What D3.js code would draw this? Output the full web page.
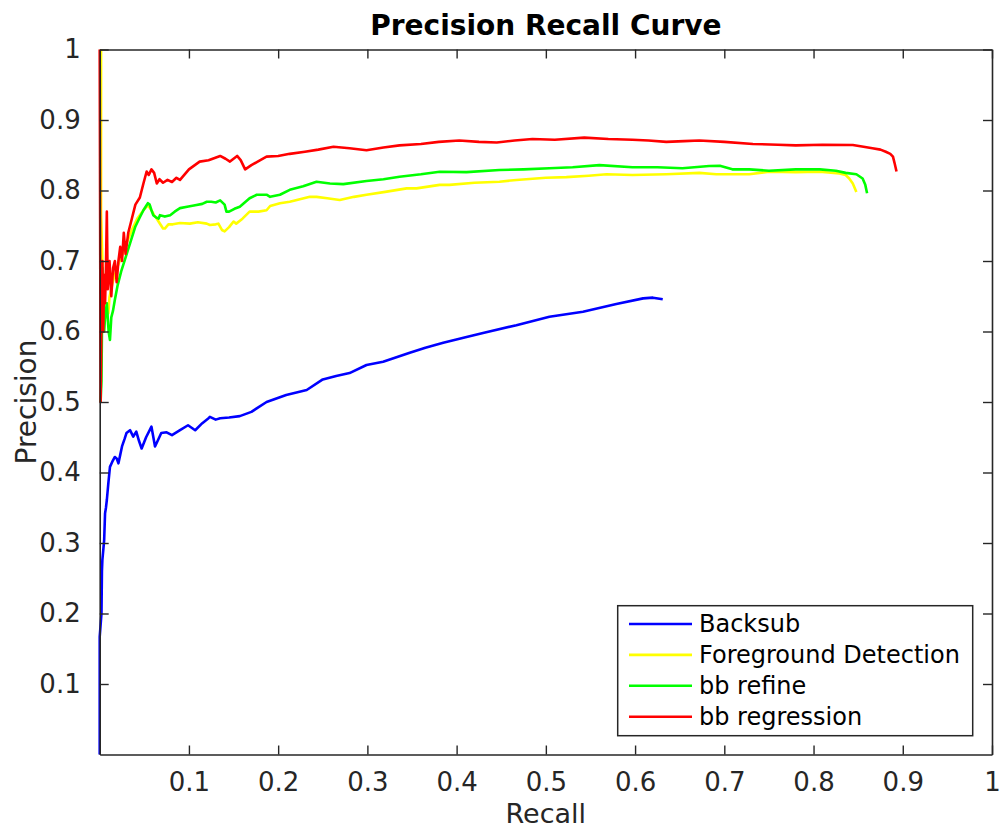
<!DOCTYPE html>
<html>
<head>
<meta charset="utf-8">
<script src="https://cdn.jsdelivr.net/npm/d3@7"></script>
<style>
  html, body { margin: 0; padding: 0; background: #fff; }
  svg { display: block; }
  text { font-family: "DejaVu Sans", sans-serif; }
</style>
</head>
<body>
<svg id="chart" width="1003" height="831"></svg>
<script>
// ---- Data (recall, precision) ----
const seriesNames = ["Backsub", "Foreground Detection", "bb refine", "bb regression"];
const seriesColors = ["#0000ff", "#ffff00", "#00ff00", "#ff0000"];
const xTicks = [0.1, 0.2, 0.3, 0.4, 0.5, 0.6, 0.7, 0.8, 0.9, 1];
const yTicks = [0.1, 0.2, 0.3, 0.4, 0.5, 0.6, 0.7, 0.8, 0.9, 1];

const backsub = [[0,0],[0,0.167],[0.002,0.20],[0.0025,0.26],[0.003,0.276],[0.004,0.29],[0.005,0.304],[0.006,0.342],[0.007,0.35],[0.008,0.361],[0.0097,0.385],[0.0115,0.408],[0.014,0.415],[0.017,0.422],[0.019,0.420],[0.021,0.413],[0.023,0.425],[0.025,0.437],[0.028,0.448],[0.030,0.456],[0.034,0.460],[0.0376,0.451],[0.041,0.458],[0.044,0.445],[0.047,0.434],[0.052,0.450],[0.058,0.465],[0.062,0.437],[0.065,0.445],[0.069,0.456],[0.075,0.457],[0.081,0.453],[0.090,0.460],[0.099,0.467],[0.107,0.460],[0.115,0.470],[0.122,0.477],[0.1235,0.479],[0.130,0.475],[0.135,0.477],[0.145,0.478],[0.157,0.480],[0.170,0.486],[0.187,0.500],[0.209,0.510],[0.232,0.517],[0.250,0.532],[0.265,0.537],[0.280,0.541],[0.299,0.5525],[0.3176,0.557],[0.3475,0.570],[0.365,0.577],[0.385,0.584],[0.41,0.592],[0.4296,0.598],[0.467,0.609],[0.504,0.621],[0.5416,0.628],[0.579,0.639],[0.609,0.647],[0.62,0.648],[0.631,0.6457]];

const foreground = [[0.0015,1.0],[0.0015,0.768],[0.003,0.70],[0.005,0.64],[0.007,0.62],[0.0097,0.626],[0.011,0.649],[0.015,0.672],[0.020,0.692],[0.026,0.711],[0.031,0.728],[0.036,0.744],[0.042,0.760],[0.049,0.772],[0.054,0.779],[0.058,0.772],[0.061,0.765],[0.064,0.760],[0.067,0.754],[0.071,0.746],[0.073,0.746],[0.077,0.752],[0.082,0.752],[0.090,0.754],[0.101,0.753],[0.110,0.755],[0.120,0.753],[0.1235,0.751],[0.130,0.752],[0.133,0.753],[0.137,0.744],[0.140,0.742],[0.145,0.748],[0.150,0.756],[0.153,0.753],[0.160,0.760],[0.168,0.770],[0.178,0.770],[0.187,0.772],[0.191,0.778],[0.202,0.782],[0.213,0.784],[0.2355,0.791],[0.243,0.791],[0.255,0.789],[0.269,0.7865],[0.285,0.791],[0.299,0.794],[0.320,0.798],[0.344,0.803],[0.355,0.803],[0.381,0.808],[0.392,0.808],[0.42,0.811],[0.448,0.8125],[0.467,0.815],[0.50,0.818],[0.523,0.819],[0.548,0.821],[0.568,0.823],[0.597,0.822],[0.635,0.823],[0.672,0.825],[0.691,0.823],[0.728,0.823],[0.75,0.8267],[0.78,0.826],[0.807,0.8267],[0.829,0.824],[0.836,0.822],[0.840,0.817],[0.844,0.810],[0.848,0.798]];

const bbRefine = [[0.001,0.50],[0.002,0.53],[0.0025,0.60],[0.003,0.69],[0.004,0.63],[0.005,0.60],[0.006,0.62],[0.008,0.64],[0.010,0.60],[0.0115,0.588],[0.013,0.62],[0.015,0.63],[0.017,0.645],[0.020,0.665],[0.024,0.685],[0.028,0.701],[0.034,0.725],[0.040,0.749],[0.045,0.762],[0.049,0.772],[0.052,0.778],[0.054,0.782],[0.056,0.780],[0.058,0.772],[0.060,0.765],[0.063,0.762],[0.066,0.760],[0.0675,0.765],[0.073,0.763],[0.079,0.765],[0.084,0.770],[0.090,0.775],[0.098,0.777],[0.107,0.779],[0.115,0.781],[0.120,0.784],[0.125,0.784],[0.130,0.783],[0.135,0.786],[0.140,0.780],[0.142,0.770],[0.145,0.770],[0.151,0.774],[0.157,0.777],[0.168,0.789],[0.176,0.794],[0.187,0.794],[0.191,0.791],[0.202,0.794],[0.213,0.801],[0.228,0.806],[0.243,0.8125],[0.258,0.810],[0.273,0.809],[0.299,0.8135],[0.318,0.816],[0.336,0.8196],[0.36,0.823],[0.381,0.8267],[0.411,0.826],[0.448,0.829],[0.475,0.830],[0.504,0.8315],[0.53,0.833],[0.56,0.836],[0.597,0.833],[0.625,0.833],[0.653,0.8315],[0.683,0.8348],[0.695,0.835],[0.709,0.830],[0.728,0.830],[0.75,0.828],[0.78,0.830],[0.807,0.830],[0.825,0.828],[0.836,0.825],[0.848,0.823],[0.855,0.817],[0.858,0.808],[0.860,0.796]];

const bbRegression = [[0,1.0],[0.0005,0.76],[0.001,0.5],[0.002,0.62],[0.003,0.70],[0.004,0.6],[0.005,0.68],[0.006,0.64],[0.007,0.69],[0.008,0.77],[0.009,0.66],[0.011,0.70],[0.013,0.65],[0.015,0.69],[0.017,0.70],[0.019,0.67],[0.021,0.70],[0.023,0.72],[0.025,0.70],[0.027,0.74],[0.029,0.71],[0.032,0.74],[0.036,0.76],[0.040,0.78],[0.045,0.79],[0.049,0.81],[0.0526,0.827],[0.055,0.822],[0.058,0.830],[0.061,0.825],[0.064,0.81],[0.067,0.816],[0.071,0.811],[0.076,0.815],[0.081,0.812],[0.086,0.818],[0.090,0.815],[0.100,0.830],[0.112,0.841],[0.122,0.843],[0.135,0.849],[0.141,0.845],[0.146,0.841],[0.150,0.845],[0.154,0.849],[0.158,0.843],[0.163,0.830],[0.170,0.836],[0.180,0.843],[0.187,0.848],[0.200,0.849],[0.213,0.852],[0.230,0.855],[0.245,0.858],[0.262,0.862],[0.280,0.860],[0.299,0.857],[0.318,0.861],[0.336,0.864],[0.36,0.866],[0.38,0.869],[0.403,0.871],[0.425,0.869],[0.445,0.868],[0.465,0.871],[0.485,0.873],[0.51,0.872],[0.543,0.875],[0.57,0.873],[0.597,0.872],[0.615,0.871],[0.635,0.869],[0.655,0.870],[0.672,0.871],[0.70,0.869],[0.732,0.866],[0.76,0.865],[0.78,0.864],[0.81,0.865],[0.844,0.8645],[0.856,0.862],[0.866,0.860],[0.875,0.858],[0.881,0.855],[0.886,0.852],[0.889,0.848],[0.891,0.838],[0.893,0.827]];

const allSeries = [backsub, foreground, bbRefine, bbRegression];

// ---- Layout ----
const svg = d3.select("#chart");
const L = 99.7, R = 992, T = 49.5, B = 754.5;
const x = d3.scaleLinear().domain([0, 1]).range([L, R]);
const y = d3.scaleLinear().domain([0, 1]).range([B, T]);
const axisColor = "#262626";
const tickLen = 9;

// Lines
const line = d3.line().x(d => x(d[0])).y(d => y(d[1]));
svg.append("defs").append("clipPath").attr("id", "clip")
  .append("rect").attr("x", L - 2).attr("y", T - 2).attr("width", R - L + 4).attr("height", B - T + 4);
const lg = svg.append("g").attr("clip-path", "url(#clip)");
allSeries.forEach((s, i) => {
  lg.append("path").datum(s)
    .attr("d", line)
    .attr("fill", "none")
    .attr("stroke", seriesColors[i])
    .attr("stroke-width", 2.6)
    .attr("stroke-linejoin", "round");
});

// Axes (MATLAB box style, inward ticks)
function styleAxis(g) {
  g.select(".domain").attr("stroke", axisColor).attr("stroke-width", 1.6);
  g.selectAll(".tick line").attr("stroke", axisColor).attr("stroke-width", 1.4);
  g.selectAll(".tick text").attr("fill", axisColor).style("font-family", "DejaVu Sans").style("font-size", "26px");
}
const fmt = d => (d === 1 ? "1" : d3.format(".1f")(d));

const xAxis = svg.append("g").attr("transform", `translate(0,${B})`)
  .call(d3.axisBottom(x).tickValues(xTicks).tickFormat(fmt).tickSizeInner(-tickLen).tickSizeOuter(0).tickPadding(18));
styleAxis(xAxis);
const xTop = svg.append("g").attr("transform", `translate(0,${T})`)
  .call(d3.axisTop(x).tickValues(xTicks).tickFormat("").tickSizeInner(-tickLen).tickSizeOuter(0));
styleAxis(xTop);
const yAxis = svg.append("g").attr("transform", `translate(${L},0)`)
  .call(d3.axisLeft(y).tickValues(yTicks).tickFormat(fmt).tickSizeInner(-tickLen).tickSizeOuter(0).tickPadding(19));
styleAxis(yAxis);
const yRight = svg.append("g").attr("transform", `translate(${R},0)`)
  .call(d3.axisRight(y).tickValues(yTicks).tickFormat("").tickSizeInner(-tickLen).tickSizeOuter(0));
styleAxis(yRight);

// Titles
svg.append("text").attr("x", (L + R) / 2).attr("y", 35).attr("text-anchor", "middle")
  .style("font-size", "28px").style("font-weight", "bold").attr("fill", "#000")
  .text("Precision Recall Curve");
svg.append("text").attr("x", (L + R) / 2).attr("y", 823).attr("text-anchor", "middle")
  .style("font-size", "27px").attr("fill", axisColor).text("Recall");
svg.append("text").attr("transform", `translate(36,${(T + B) / 2}) rotate(-90)`).attr("text-anchor", "middle")
  .style("font-size", "28px").attr("fill", axisColor).text("Precision");

// Legend
const legX = 617.7, legY = 605.7, legW = 355, legH = 130;
const leg = svg.append("g");
leg.append("rect").attr("x", legX).attr("y", legY).attr("width", legW).attr("height", legH)
  .attr("fill", "#fff").attr("stroke", axisColor).attr("stroke-width", 1.5);
seriesNames.forEach((name, i) => {
  const cy = 624 + i * 30.9;
  leg.append("line").attr("x1", 629).attr("x2", 692).attr("y1", cy).attr("y2", cy)
    .attr("stroke", seriesColors[i]).attr("stroke-width", 2.6);
  leg.append("text").attr("x", 699).attr("y", cy).attr("dy", "0.35em")
    .style("font-size", "24px").attr("fill", "#000").text(name);
});
</script>
</body>
</html>
